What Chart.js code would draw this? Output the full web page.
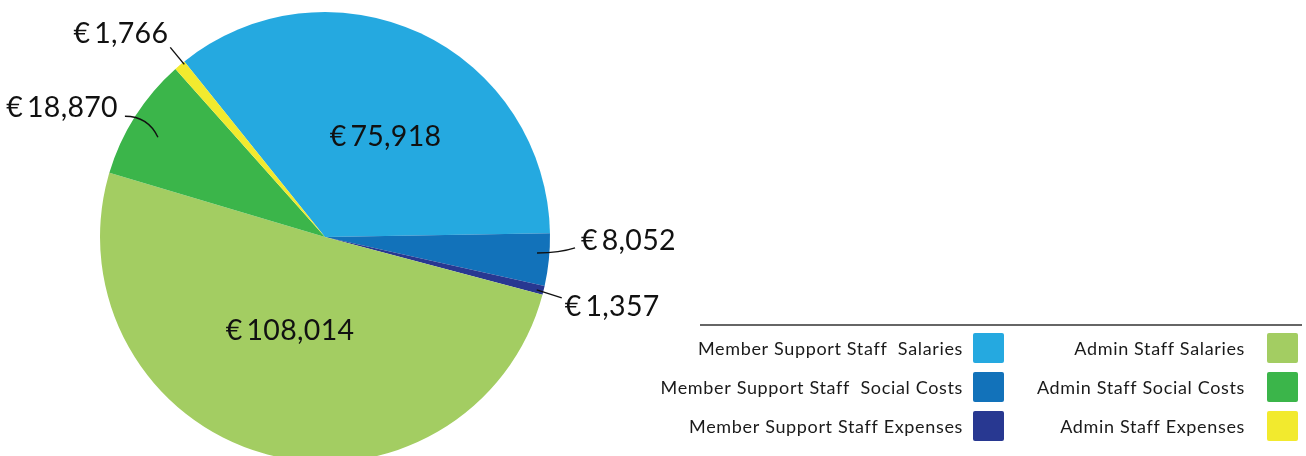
<!DOCTYPE html>
<html>
<head>
<meta charset="utf-8">
<script src="https://cdn.jsdelivr.net/npm/chart.js@4"></script>
<style>
  html, body { margin: 0; padding: 0; background: #fff; overflow: hidden; }
  #wrap { position: relative; width: 1306px; height: 470px; }
</style>
</head>
<body>
<div id="wrap"><canvas id="chart"></canvas></div>
<script>
const categories = [
  "Member Support Staff  Salaries",
  "Member Support Staff  Social Costs",
  "Member Support Staff Expenses",
  "Admin Staff Salaries",
  "Admin Staff Social Costs",
  "Admin Staff Expenses",
];
const amounts = [75918, 8052, 1357, 108014, 18870, 1766];
const sliceColors = ["#25a9e0", "#1272ba", "#283891", "#a3cd62", "#3bb54a", "#f2ea2e"];

const valueLabels = amounts.map((v) => "€\u2009" + v.toLocaleString("en-US"));

// where each value label goes, relative to its slice
const labelLayout = [
  { inside: true, rf: 0.52, da: 6 },
  { rf: 0.945, da: -1.5, dx: 38, dy: -5, cx: 0.6, cy: 0, tx: 6, ty: -7, align: "left" },
  { rf: 0.97, da: 0.3, dx: 25, dy: 8, cx: 0.5, cy: 0.5, tx: 3, ty: 9, align: "left" },
  { inside: true, rf: 0.445, da: 4.7 },
  { rf: 0.865, da: -1.6, dx: -33, dy: -21, cx: 0.3, cy: 1, tx: -7, ty: -8, align: "right" },
  { rf: 0.99, da: 1.0, dx: -14, dy: -17, cx: 0.5, cy: 0.5, tx: -2, ty: -14, align: "right" },
];

const FONT = "Lato, 'Open Sans', sans-serif";

const valueLabelPlugin = {
  id: "valueLabels",
  afterDatasetsDraw(chart) {
    const ctx = chart.ctx;
    const arcs = chart.getDatasetMeta(0).data;
    ctx.save();
    ctx.fillStyle = "#111";
    ctx.strokeStyle = "#111";
    ctx.lineWidth = 1.4;
    ctx.font = "28.5px " + FONT;
    ctx.letterSpacing = "0.3px";
    ctx.textBaseline = "middle";
    arcs.forEach((arc, i) => {
      const lay = labelLayout[i];
      const R = arc.outerRadius;
      const a = (arc.startAngle + arc.endAngle) / 2 + (lay.da * Math.PI) / 180;
      const px = arc.x + Math.cos(a) * R * lay.rf;
      const py = arc.y + Math.sin(a) * R * lay.rf;
      if (lay.inside) {
        ctx.textAlign = "center";
        ctx.fillText(valueLabels[i], px, py);
        return;
      }
      const ex = px + lay.dx;
      const ey = py + lay.dy;
      ctx.beginPath();
      ctx.moveTo(px, py);
      ctx.quadraticCurveTo(px + (ex - px) * lay.cx, py + (ey - py) * lay.cy, ex, ey);
      ctx.stroke();
      ctx.textAlign = lay.align;
      ctx.fillText(valueLabels[i], ex + lay.tx, ey + lay.ty);
    });
    ctx.restore();
  },
};

const sideLegendPlugin = {
  id: "sideLegend",
  afterDraw(chart) {
    const ctx = chart.ctx;
    ctx.save();
    ctx.strokeStyle = "#333";
    ctx.lineWidth = 1.3;
    ctx.beginPath();
    ctx.moveTo(700, 325);
    ctx.lineTo(1302, 325);
    ctx.stroke();

    ctx.font = "18px " + FONT;
    ctx.letterSpacing = "0.65px";
    ctx.textAlign = "right";
    ctx.textBaseline = "middle";
    const colX = [973, 1267];
    const textGap = [10, 22];
    const rowY = [333, 372, 411];
    categories.forEach((name, i) => {
      const col = Math.floor(i / 3);
      const x = colX[col];
      const y = rowY[i % 3];
      ctx.fillStyle = sliceColors[i];
      ctx.beginPath();
      ctx.roundRect(x, y, 31, 30, 2);
      ctx.fill();
      ctx.fillStyle = "#1a1a1a";
      ctx.fillText(name, x - textGap[col], y + 16);
    });
    ctx.restore();
  },
};

new Chart(document.getElementById("chart"), {
  type: "pie",
  data: {
    labels: categories,
    datasets: [{
      data: amounts,
      backgroundColor: sliceColors,
      borderWidth: 0,
    }],
  },
  options: {
    responsive: true,
    maintainAspectRatio: false,
    animation: false,
    rotation: -38.7,
    layout: { padding: { left: 100, right: 756, top: 12, bottom: 8 } },
    plugins: {
      legend: { display: false },
      tooltip: { enabled: false },
    },
  },
  plugins: [valueLabelPlugin, sideLegendPlugin],
});
</script>
</body>
</html>
